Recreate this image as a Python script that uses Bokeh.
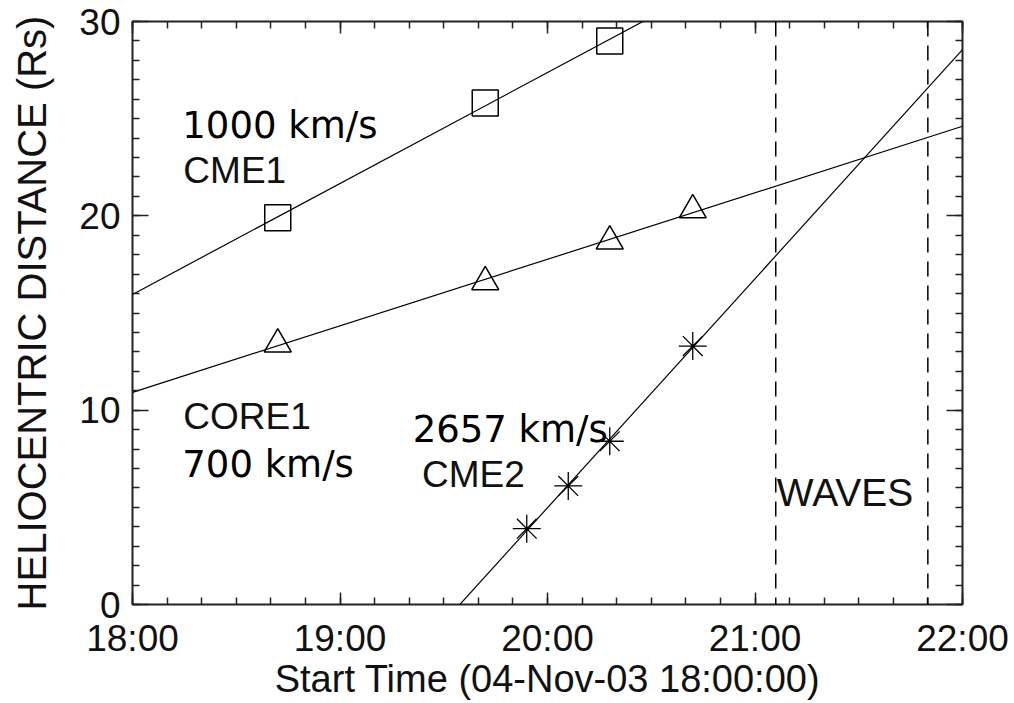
import numpy as np
from bokeh.plotting import figure
from bokeh.models import FixedTicker, LinearAxis, Span, Range1d
from bokeh.core.properties import value
from bokeh.embed import file_html
from bokeh.resources import INLINE

# ---- data (times in decimal hours on 04-Nov-03, distances in solar radii) ----
cme1_t = [18.7, 19.7, 20.3]
cme1_r = [19.9, 25.8, 29.0]

core1_t = [18.7, 19.7, 20.3, 20.7]
core1_r = [13.4, 16.6, 18.7, 20.3]

cme2_t = [19.9, 20.1, 20.3, 20.7]
cme2_r = [3.9, 6.1, 8.4, 13.3]

waves_t = [21.1, 21.833]

x_ticks = [18, 19, 20, 21, 22]
x_tick_labels = ["18:00", "19:00", "20:00", "21:00", "22:00"]
y_ticks = [0, 10, 20, 30]
y_tick_labels = ["0", "10", "20", "30"]

# annotation texts and their anchor points (time, distance)
label_text = ["1000 km/s", "CME1", "CORE1", "700 km/s", "2657 km/s", "CME2", "WAVES"]
label_x = [18.24, 18.245, 18.245, 18.24, 19.35, 19.395, 21.105]
label_y = [24.63, 22.35, 9.65, 7.20, 9.01, 6.70, 5.77]
label_font = ["DejaVu Sans", "Liberation Sans", "Liberation Sans", "DejaVu Sans",
              "DejaVu Sans", "Liberation Sans", "Liberation Sans"]
label_size = ["37px", "37px", "37px", "37px", "37px", "37px", "39px"]

FONT = "Liberation Sans"
INK = "#111111"

p = figure(frame_width=830, frame_height=583, output_backend="svg", toolbar_location=None,
           x_range=Range1d(18, 22), y_range=Range1d(0, 30),
           min_border_left=132, min_border_right=52,
           min_border_top=21, min_border_bottom=99,
           background_fill_color="white", border_fill_color="white")
p.grid.visible = False
p.outline_line_color = "#222222"
p.outline_line_width = 2

x_minor = [18 + k / 6 for k in range(0, 25)]
y_minor = list(range(0, 31))

xt = FixedTicker(ticks=x_ticks, minor_ticks=x_minor)
yt = FixedTicker(ticks=y_ticks, minor_ticks=y_minor)


def style_axis(ax, major_len):
    ax.axis_line_color = None
    ax.major_tick_in = major_len
    ax.major_tick_out = 0
    ax.minor_tick_in = 7
    ax.minor_tick_out = 0
    ax.major_tick_line_color = "#222222"
    ax.minor_tick_line_color = "#222222"
    ax.major_tick_line_width = 1.5
    ax.minor_tick_line_width = 1.5


xa = p.xaxis[0]
xa.ticker = xt
xa.major_label_overrides = {t: s for t, s in zip(x_ticks, x_tick_labels)}
style_axis(xa, 12)
xa.major_label_text_font = FONT
xa.major_label_text_font_size = "37px"
xa.major_label_text_color = INK
xa.major_label_standoff = 13
xa.axis_label = "Start Time (04-Nov-03 18:00:00)"
xa.axis_label_text_font = FONT
xa.axis_label_text_font_size = "38px"
xa.axis_label_text_font_style = "normal"
xa.axis_label_text_color = INK
xa.axis_label_standoff = -4

ya = p.yaxis[0]
ya.ticker = yt
ya.major_label_overrides = {t: s for t, s in zip(y_ticks, y_tick_labels)}
style_axis(ya, 16)
ya.major_label_text_font = FONT
ya.major_label_text_font_size = "37px"
ya.major_label_text_color = INK
ya.major_label_standoff = 12
ya.axis_label = "HELIOCENTRIC DISTANCE (Rs)"
ya.axis_label_text_font = FONT
ya.axis_label_text_font_size = "40px"
ya.axis_label_text_font_style = "normal"
ya.axis_label_text_color = INK
ya.axis_label_standoff = 22

blank_x = {t: "" for t in x_ticks}
blank_y = {t: "" for t in y_ticks}
top_ax = LinearAxis(ticker=xt, major_label_overrides=blank_x)
style_axis(top_ax, 12)
p.add_layout(top_ax, "above")
right_ax = LinearAxis(ticker=yt, major_label_overrides=blank_y)
style_axis(right_ax, 16)
p.add_layout(right_ax, "right")

# fitted lines through each series, spanning the whole time axis
xs_line = np.array([18.0, 22.0])
for t, r in [(cme1_t, cme1_r), (core1_t, core1_r), (cme2_t, cme2_r)]:
    k, b = np.polyfit(t, r, 1)
    p.line(xs_line, k * xs_line + b, line_color="black", line_width=1.2)

p.scatter(cme1_t, cme1_r, marker="square", size=26, fill_color=None,
          line_color="black", line_width=1.5)
p.scatter(core1_t, core1_r, marker="triangle", size=27, fill_color=None,
          line_color="black", line_width=1.5)
p.scatter(cme2_t, cme2_r, marker="asterisk", size=28,
          line_color="black", line_width=1.3)

for t in waves_t:
    p.add_layout(Span(location=t, dimension="height", line_color="black",
                      line_width=1.5, line_dash="15 9"))

for txt, x, y, f, s in zip(label_text, label_x, label_y, label_font, label_size):
    p.text([x], [y], text=[txt], text_font=value(f), text_font_size=s,
           text_color="black" if f == "DejaVu Sans" else INK,
           text_align="left", text_baseline="alphabetic")

open("out.html", "w").write(file_html(p, INLINE))
